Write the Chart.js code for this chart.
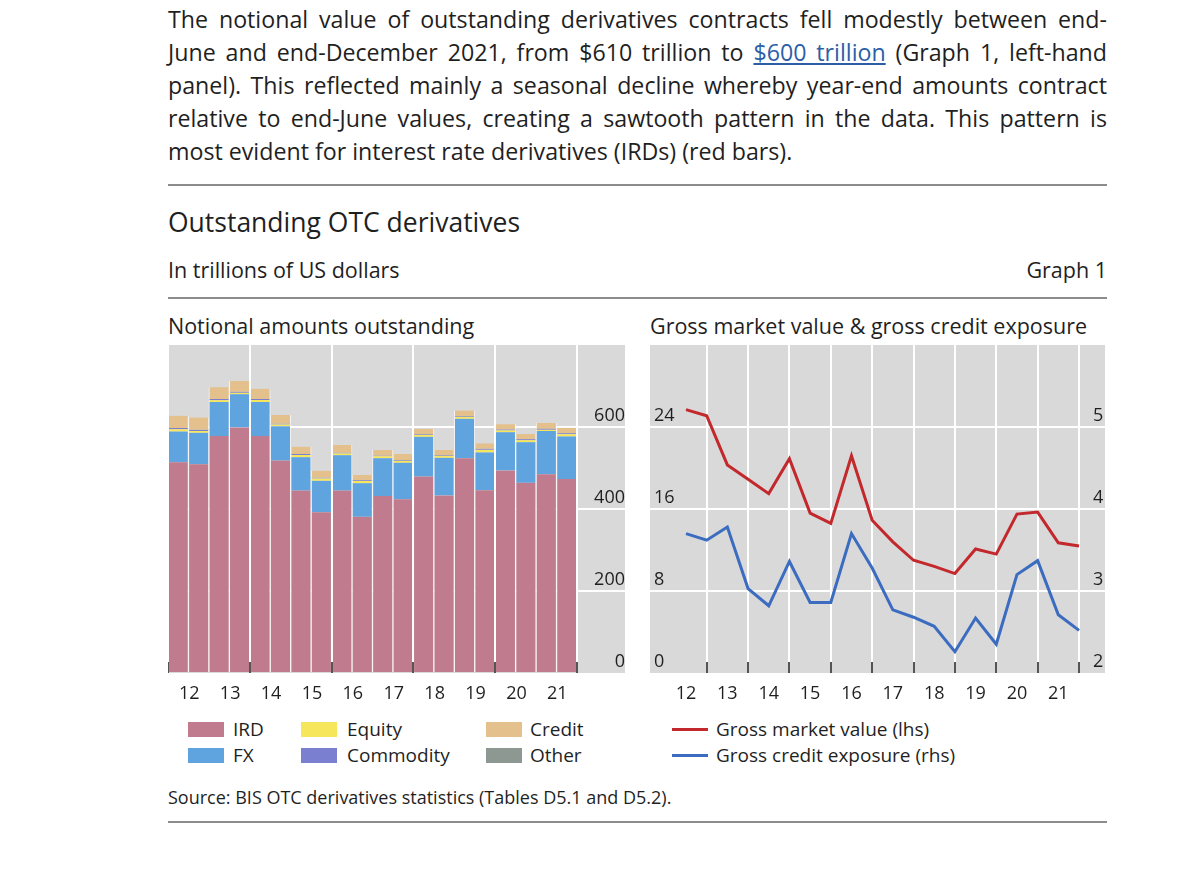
<!DOCTYPE html>
<html><head><meta charset="utf-8">
<script src="https://cdn.jsdelivr.net/npm/chart.js@4.4.1/dist/chart.umd.min.js"></script>
<style>
html,body{margin:0;padding:0;background:#fff;width:1200px;height:885px;overflow:hidden;}
body{position:relative;font-family:'Open Sans',sans-serif;color:#1f1f1f;}
.abs{position:absolute;white-space:nowrap;}
.para{position:absolute;left:168px;width:939px;top:3px;font-size:23.2px;line-height:33px;}
.para div{text-align:justify;text-align-last:justify;height:33px;white-space:nowrap;}
.para div.last{text-align-last:left;}
.para a{color:#2c5ea8;text-decoration:underline;}
.hr{position:absolute;left:168px;width:939px;height:2px;background:#8c8c8c;}
.sw{position:absolute;width:36px;height:15px;}
.ln{position:absolute;width:36px;height:3px;}
.lg{position:absolute;font-size:19px;line-height:24px;white-space:nowrap;}
</style></head>
<body>
<div class="para">
<div>The notional value of outstanding derivatives contracts fell modestly between end-</div>
<div>June and end-December 2021, from $610 trillion to <a>$600 trillion</a> (Graph 1, left-hand</div>
<div>panel). This reflected mainly a seasonal decline whereby year-end amounts contract</div>
<div>relative to end-June values, creating a sawtooth pattern in the data. This pattern is</div>
<div class="last">most evident for interest rate derivatives (IRDs) (red bars).</div>
</div>
<div class="hr" style="top:184px"></div>
<div class="abs" style="left:168px;top:205px;font-size:26.5px;line-height:34px;">Outstanding OTC derivatives</div>
<div class="abs" style="left:168px;top:256px;font-size:21.5px;line-height:28px;">In trillions of US dollars</div>
<div class="abs" style="right:93px;top:256px;font-size:21.5px;line-height:28px;">Graph 1</div>
<div class="hr" style="top:297px;height:2px"></div>
<div class="abs" style="left:168px;top:312px;font-size:21.5px;line-height:28px;">Notional amounts outstanding</div>
<div class="abs" style="left:650px;top:312px;font-size:21.5px;line-height:28px;">Gross market value &amp; gross credit exposure</div>
<canvas id="c1" width="457" height="365" style="position:absolute;left:168px;top:345px;"></canvas>
<canvas id="c2" width="455" height="365" style="position:absolute;left:650px;top:345px;"></canvas>
<div id="legend"></div>
<div class="abs" style="left:168px;top:785px;font-size:18px;line-height:24px;">Source: BIS OTC derivatives statistics (Tables D5.1 and D5.2).</div>
<div class="hr" style="top:821px"></div>
<script>
// ---- data ----
const periods = ['Jun 2012','Dec 2012','Jun 2013','Dec 2013','Jun 2014','Dec 2014','Jun 2015','Dec 2015','Jun 2016','Dec 2016',
                 'Jun 2017','Dec 2017','Jun 2018','Dec 2018','Jun 2019','Dec 2019','Jun 2020','Dec 2020','Jun 2021','Dec 2021'];
const yearLabels = ['12','13','14','15','16','17','18','19','20','21'];
const ird       = [514,509,578,599,578,518,445,392,445,381,432,424,479,433,524,446,494,464,485,473];
const fx        = [75,77,83,81,83,84,81,77,86,82,92,89,97,92,96,92,93,99,105,104];
const equity    = [5.5,4.5,4.5,3.5,5,4,6,5.3,4.5,5.5,4.5,4.7,5,5,5,6.6,4.7,4.5,3.5,5.3];
const commodity = [3,2.5,2.5,2.5,2.2,2,1.9,1.7,1.6,1.5,1.6,1.8,2,2,2,2.4,2.3,2.5,2.5,2.7];
const credit    = [30,30,29,26,25,21,18,17,19,13,14,14.5,12,12,13,13,13,13,14,13];
const other     = [0,0,0,0,0,0,0,0,0,0,0,0,0,0,0,0,0,0,0,0];
const grossMarketValue   = [25.7,25.1,20.3,18.9,17.5,20.9,15.6,14.6,21.2,14.9,12.8,11.0,10.4,9.7,12.1,11.6,15.5,15.7,12.7,12.4];
const grossCreditExposure= [3.70,3.62,3.78,3.03,2.82,3.36,2.86,2.86,3.70,3.28,2.77,2.68,2.57,2.26,2.67,2.35,3.20,3.37,2.71,2.52];
const leftTicks  = [0,200,400,600];
const gmvTicks   = [0,8,16,24];
const gceTicks   = [2,3,4,5];

const barSeries = [
  {name:'IRD', data:ird, color:'#c07c8e'},
  {name:'FX', data:fx, color:'#5fa3df'},
  {name:'Equity', data:equity, color:'#f6e65c'},
  {name:'Commodity', data:commodity, color:'#7b7fcf'},
  {name:'Credit', data:credit, color:'#e3c08c'},
  {name:'Other', data:other, color:'#8e9892'}
];
const lineSeries = [
  {name:'Gross market value (lhs)', data:grossMarketValue, color:'#c3282d', axis:'y'},
  {name:'Gross credit exposure (rhs)', data:grossCreditExposure, color:'#3b6cc0', axis:'y1'}
];

// ---- styles ----
const FONT = "'Open Sans', sans-serif";
const GRAY = '#d9d9d9';
const TXT = '#1f1f1f';
Chart.defaults.font.family = FONT;
Chart.defaults.font.size = 18;
Chart.defaults.color = TXT;

const bgPlugin = {
  id: 'panelBg',
  beforeDraw(chart) {
    const {ctx, chartArea: a} = chart;
    ctx.save();
    ctx.fillStyle = GRAY;
    ctx.fillRect(0, a.top, chart.width, a.bottom - a.top);
    ctx.restore();
  }
};
const fitTo = (w, h) => (s) => {
  if (w !== null) s.width = w;
  if (h !== null) s.height = h;
  s.paddingTop = 0; s.paddingBottom = 0; s.paddingLeft = 0; s.paddingRight = 0;
};
const mctx = document.createElement('canvas').getContext('2d');
mctx.font = '18px ' + FONT;
const widest = Math.max(...leftTicks.map(v => mctx.measureText(String(v)).width));

// ---- left chart ----
new Chart(document.getElementById('c1'), {
  type: 'bar',
  data: {
    labels: periods,
    datasets: barSeries.map(s => ({
      label: s.name, data: s.data, backgroundColor: s.color,
      borderColor: 'rgba(255,255,255,0.7)', borderWidth: {left:1, right:1, top:0, bottom:0},
      borderSkipped: false, categoryPercentage: 1, barPercentage: 1
    }))
  },
  options: {
    responsive: false, animation: false, devicePixelRatio: 1,
    layout: {padding: 0},
    plugins: {legend: {display: false}, tooltip: {enabled: false}},
    scales: {
      x: {
        stacked: true, offset: true,
        border: {display: false},
        grid: {
          offset: true, z: 1, lineWidth: 2, tickWidth: 2, tickLength: -11,
          color: c => (c.index === undefined || c.index % 4 === 0) ? '#ffffff' : 'rgba(0,0,0,0)',
          tickColor: c => (c.index === undefined || c.index % 4 === 0) ? '#555555' : 'rgba(0,0,0,0)'
        },
        ticks: {
          autoSkip: false, maxRotation: 0, padding: 21, labelOffset: 11,
          callback: (v, i) => i % 2 === 0 ? yearLabels[i / 2] : ''
        },
        afterFit: fitTo(null, 37)
      },
      y: {
        stacked: true, position: 'right', min: 0, max: 800,
        border: {display: false},
        grid: {
          lineWidth: 2, tickWidth: 2, tickLength: 48,
          color: c => leftTicks.includes(c.tick.value) && c.tick.value !== 0 ? '#ffffff' : 'rgba(0,0,0,0)',
          tickColor: c => leftTicks.includes(c.tick.value) && c.tick.value !== 0 ? '#ffffff' : 'rgba(0,0,0,0)'
        },
        ticks: {
          stepSize: 200, crossAlign: 'far', labelOffset: -11, padding: 42 - 48 - widest,
          callback: v => leftTicks.includes(v) ? String(v) : ''
        },
        afterFit: fitTo(48, null)
      }
    }
  },
  plugins: [bgPlugin]
});

// ---- right chart ----
new Chart(document.getElementById('c2'), {
  type: 'line',
  data: {
    labels: periods,
    datasets: lineSeries.map(s => ({
      label: s.name, data: s.data, borderColor: s.color, backgroundColor: s.color,
      borderWidth: 3, pointRadius: 0, tension: 0, yAxisID: s.axis
    }))
  },
  options: {
    responsive: false, animation: false, devicePixelRatio: 1,
    layout: {padding: {left: 4, right: 0, top: 0, bottom: 0}},
    plugins: {legend: {display: false}, tooltip: {enabled: false}},
    scales: {
      x: {
        offset: false,
        border: {display: false},
        grid: {
          lineWidth: 2, tickWidth: 2, tickLength: -11,
          color: c => (c.index !== undefined && c.index % 2 === 1) ? '#ffffff' : 'rgba(0,0,0,0)',
          tickColor: c => (c.index !== undefined && c.index % 2 === 1) ? '#555555' : 'rgba(0,0,0,0)'
        },
        ticks: {
          autoSkip: false, maxRotation: 0, padding: 21,
          callback: (v, i) => i % 2 === 0 ? yearLabels[i / 2] : ''
        },
        afterFit: fitTo(null, 37)
      },
      y: {
        position: 'left', min: 0, max: 32,
        border: {display: false},
        grid: {
          lineWidth: 2, tickWidth: 2, tickLength: 36,
          color: c => (c.tick.value > 0 && c.tick.value < 32) ? '#ffffff' : 'rgba(0,0,0,0)',
          tickColor: c => (c.tick.value > 0 && c.tick.value < 32) ? '#ffffff' : 'rgba(0,0,0,0)'
        },
        ticks: {
          stepSize: 8, crossAlign: 'far', labelOffset: -11, padding: 0,
          callback: v => gmvTicks.includes(v) ? String(v) : ''
        },
        afterFit: fitTo(32, null)
      },
      y1: {
        position: 'right', min: 2, max: 6,
        border: {display: false},
        grid: {
          drawOnChartArea: false, lineWidth: 2, tickWidth: 2, tickLength: 26,
          color: c => (c.tick.value > 2 && c.tick.value < 6) ? '#ffffff' : 'rgba(0,0,0,0)',
          tickColor: c => (c.tick.value > 2 && c.tick.value < 6) ? '#ffffff' : 'rgba(0,0,0,0)'
        },
        ticks: {
          stepSize: 1, crossAlign: 'near', labelOffset: -11, padding: -12,
          callback: v => gceTicks.includes(v) ? String(v) : ''
        },
        afterFit: fitTo(26, null)
      }
    }
  },
  plugins: [bgPlugin]
});

// ---- legend (HTML) ----
const lg = document.getElementById('legend');
const rowsY = [729, 755];
const colSwX = [188, 301, 486];
const colTxX = [233, 347, 530];
barSeries.forEach((s, i) => {
  const col = Math.floor(i / 2), row = i % 2;
  const sw = document.createElement('div');
  sw.className = 'sw'; sw.style.background = s.color;
  sw.style.left = colSwX[col] + 'px'; sw.style.top = (rowsY[row] - 7.5) + 'px';
  lg.appendChild(sw);
  const t = document.createElement('div');
  t.className = 'lg'; t.textContent = s.name;
  t.style.left = colTxX[col] + 'px'; t.style.top = (rowsY[row] - 12) + 'px';
  lg.appendChild(t);
});
lineSeries.forEach((s, i) => {
  const ln = document.createElement('div');
  ln.className = 'ln'; ln.style.background = s.color;
  ln.style.left = '672px'; ln.style.top = (rowsY[i] - 1.5) + 'px';
  lg.appendChild(ln);
  const t = document.createElement('div');
  t.className = 'lg'; t.textContent = s.name;
  t.style.left = '716px'; t.style.top = (rowsY[i] - 12) + 'px';
  lg.appendChild(t);
});
</script>
</body></html>
